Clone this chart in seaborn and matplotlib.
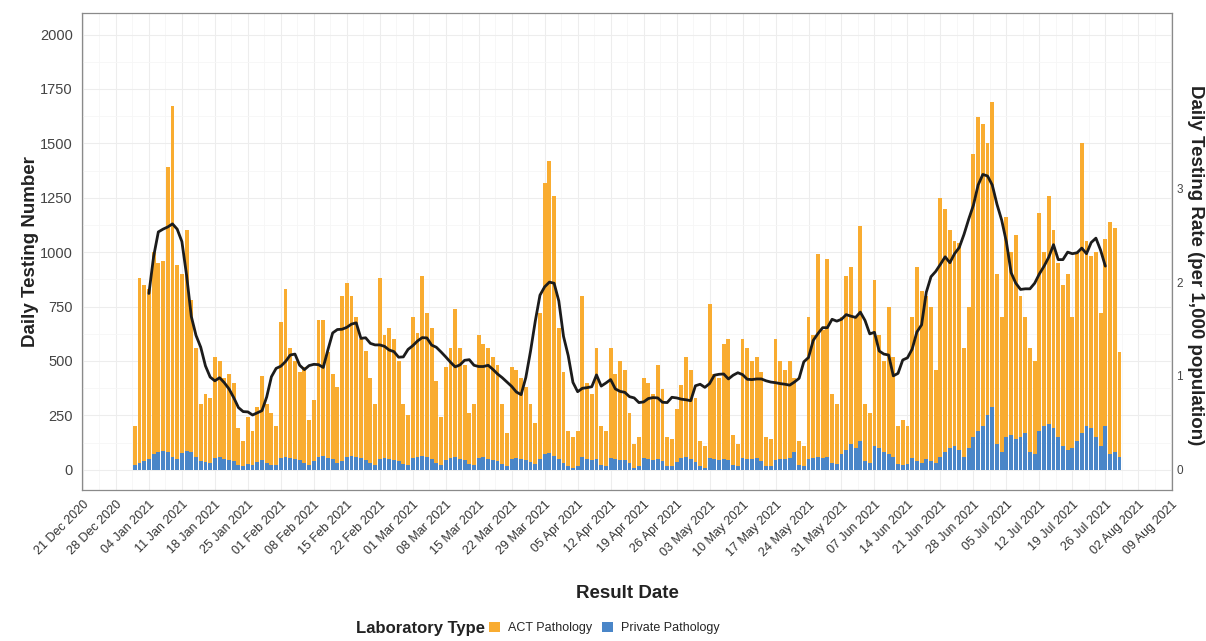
import pandas as pd
import matplotlib
matplotlib.use("Agg")
import matplotlib.pyplot as plt
import matplotlib.dates as mdates
from matplotlib.patches import Patch
from matplotlib.ticker import FixedLocator, MultipleLocator
import seaborn as sns

# Daily tests by laboratory type, 01 Jan 2021 - 29 Jul 2021
act_jan = [180, 850, 810, 780, 930, 870, 875, 1310, 1610, 890, 825, 1015, 700, 500, 260, 315,
           300, 465, 440, 370, 395, 360, 170, 115, 215, 160, 255, 385, 270, 240, 180]
act_feb = [625, 770, 505, 450, 405, 440, 210, 280, 630, 625, 485, 390, 350, 760, 800, 735,
           640, 545, 500, 390, 280, 830, 565, 600, 555, 460, 275, 230]
act_mar = [645, 570, 825, 660, 600, 380, 220, 425, 505, 680, 510, 435, 235, 280, 565, 520,
           510, 475, 440, 275, 155, 420, 405, 370, 335, 265, 190, 670, 1250, 1345, 1195]
act_apr = [600, 420, 165, 140, 165, 740, 350, 305, 510, 180, 165, 505, 390, 455, 415, 230,
           110, 135, 365, 350, 305, 430, 330, 135, 125, 245, 335, 460, 410, 295]
act_may = [115, 100, 705, 390, 375, 530, 555, 140, 105, 545, 510, 450, 465, 410, 135, 125,
           555, 450, 410, 445, 340, 110, 95, 650, 565, 930, 585, 910, 320, 275, 630]
act_jun = [800, 810, 600, 990, 260, 230, 760, 520, 420, 680, 460, 175, 210, 175, 645, 890,
           790, 750, 710, 430, 1190, 1120, 1000, 940, 950, 500, 650, 1300, 1440, 1390]
act_jul = [1250, 1400, 780, 620, 1010, 840, 940, 650, 530, 480, 430, 1000, 800, 1050, 910,
           800, 740, 810, 600, 870, 1330, 850, 790, 850, 610, 860, 1070, 1030, 480]

private_jan = [20, 30, 40, 50, 70, 80, 85, 80, 60, 50, 75, 85, 80, 60, 40, 35,
               30, 55, 60, 50, 45, 40, 20, 15, 25, 20, 35, 45, 30, 20, 20]
private_feb = [55, 60, 55, 50, 45, 30, 20, 40, 60, 65, 55, 50, 30, 40, 60, 65,
               60, 55, 45, 30, 20, 50, 55, 50, 45, 40, 25, 20]
private_mar = [55, 60, 65, 60, 50, 30, 20, 45, 55, 60, 50, 45, 25, 20, 55, 60,
               50, 45, 40, 25, 15, 50, 55, 50, 45, 35, 25, 50, 70, 75, 65]
private_apr = [50, 30, 15, 10, 15, 60, 50, 45, 50, 20, 15, 55, 50, 45, 45, 30,
               10, 15, 55, 50, 45, 50, 40, 15, 15, 35, 55, 60, 50, 35]
private_may = [15, 10, 55, 50, 45, 50, 45, 20, 15, 55, 50, 50, 55, 40, 15, 15,
               45, 50, 50, 55, 80, 20, 15, 50, 55, 60, 55, 60, 30, 25, 70]
private_jun = [90, 120, 100, 130, 40, 30, 110, 100, 80, 70, 60, 25, 20, 25, 55, 40,
               30, 50, 40, 30, 60, 80, 100, 110, 90, 60, 100, 150, 180, 200]
private_jul = [250, 290, 120, 80, 150, 160, 140, 150, 170, 80, 70, 180, 200, 210, 190,
               150, 110, 90, 100, 130, 170, 200, 190, 150, 110, 200, 70, 80, 60]

act = act_jan + act_feb + act_mar + act_apr + act_may + act_jun + act_jul
private = (private_jan + private_feb + private_mar + private_apr + private_may
           + private_jun + private_jul)

labs = ["ACT Pathology", "Private Pathology"]
colors = {"ACT Pathology": "#F9AC30", "Private Pathology": "#4A86C8"}
population_k = 431  # ACT population in thousands

dates = pd.date_range("2021-01-01", periods=len(act), freq="D")
df = pd.DataFrame({"date": dates, "ACT Pathology": act, "Private Pathology": private})
df["x"] = mdates.date2num(df["date"])
df["total"] = df["ACT Pathology"] + df["Private Pathology"]
df["avg7"] = df["total"].rolling(7, center=True).mean()

long = df.melt(id_vars=["date", "x"], value_vars=labs,
               var_name="Laboratory Type", value_name="tests")

sns.set_style("white")
plt.rcParams["font.family"] = ["Liberation Sans", "DejaVu Sans"]

fig = plt.figure(figsize=(12.06, 6.41), dpi=100)
ax = fig.add_axes([0.068, 0.236, 0.904, 0.744])

sns.histplot(data=long, x="x", weights="tests", hue="Laboratory Type", hue_order=labs,
             multiple="stack", discrete=True, shrink=0.82, palette=colors,
             alpha=1, linewidth=0, legend=False, ax=ax)
sns.lineplot(data=df, x="x", y="avg7", color="#1c1c1c", linewidth=2, ax=ax)

# x axis: weekly ticks
ticks = pd.date_range("2020-12-21", "2021-08-09", freq="7D")
tnum = mdates.date2num(ticks)
ax.set_xlim(tnum[0] - 0.2, tnum[-1] + 0.2)
ax.set_xticks(tnum)
ax.set_xticklabels([t.strftime("%d %b %Y") for t in ticks], rotation=45,
                   ha="right", rotation_mode="anchor", fontsize=9, color="#333333")
ax.xaxis.set_minor_locator(FixedLocator(tnum[:-1] + 3.5))

ax.set_ylim(-92, 2100)
ax.set_yticks(range(0, 2001, 250))
ax.yaxis.set_minor_locator(MultipleLocator(125))
ax.tick_params(axis="y", labelsize=10.5, labelcolor="#444444")
ax.tick_params(which="major", length=3, color="#888888", width=0.8)
ax.tick_params(which="minor", length=0)

ax.grid(which="major", color="#EDEDED", linewidth=0.8)
ax.grid(which="minor", color="#F6F6F6", linewidth=0.6)
ax.set_axisbelow(True)
for s in ax.spines.values():
    s.set_color("#8a8a8a")
    s.set_linewidth(0.9)

ax.set_xlabel("Result Date", fontsize=13.5, fontweight="bold", color="#222222",
              labelpad=19)
ax.set_ylabel("Daily Testing Number", fontsize=13.5, fontweight="bold", color="#222222",
              labelpad=1)

sec = ax.secondary_yaxis("right", functions=(lambda v: v / population_k,
                                             lambda v: v * population_k))
sec.set_yticks([0, 1, 2, 3])
sec.tick_params(labelsize=8.5, labelcolor="#444444", length=0, pad=3)
sec.spines["right"].set_visible(False)
sec.set_ylabel("Daily Testing Rate (per 1,000 population)", rotation=270,
               fontsize=13.5, fontweight="bold", color="#222222",
               ha="center", va="center")
sec.yaxis.set_label_coords(1.0215, 0.47, transform=ax.transAxes)

# legend along the bottom
fig.text(485 / 1206, 13 / 641, "Laboratory Type", ha="right", va="center",
         fontsize=12, fontweight="bold", color="#222222")
handles = [Patch(facecolor=colors[l], edgecolor="none", label=l) for l in labs]
fig.legend(handles=handles, loc="center left", bbox_to_anchor=(489 / 1206, 13 / 641),
           ncol=2, frameon=False, fontsize=9, handlelength=0.9, handleheight=0.9,
           handletextpad=0.6, columnspacing=0.8, borderpad=0, borderaxespad=0)

fig.savefig("out.png", dpi=100)
